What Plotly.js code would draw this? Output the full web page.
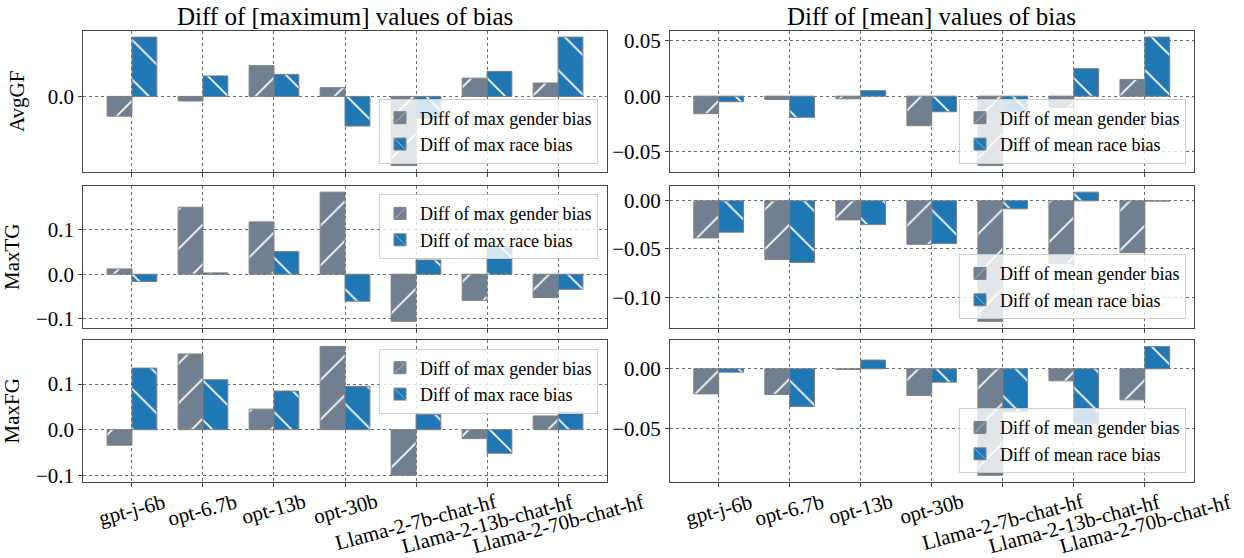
<!DOCTYPE html>
<html>
<head>
<meta charset="utf-8">
<script src="https://cdn.plot.ly/plotly-3.0.1.min.js"></script>
<style>
  html, body { margin: 0; padding: 0; background: #ffffff; }
  #chart { width: 1244px; height: 558px; }
</style>
</head>
<body>
<div id="chart"></div>
<script>
// Model names along the x axis
const models = ['gpt-j-6b', 'opt-6.7b', 'opt-13b', 'opt-30b',
  'Llama-2-7b-chat-hf', 'Llama-2-13b-chat-hf', 'Llama-2-70b-chat-hf'];

// Row labels (bias metric)
const metrics = ['AvgGF', 'MaxTG', 'MaxFG'];

// Column titles
const columnTitles = ['Diff of [maximum] values of bias', 'Diff of [mean] values of bias'];

// Differences of the maximum bias values
const avgGfMaxGender = [-0.026, -0.006, 0.0405, 0.0115, -0.091, 0.024, 0.0176];
const avgGfMaxRace   = [0.078, 0.027, 0.029, -0.039, -0.029, 0.033, 0.078];
const maxTgMaxGender = [0.012, 0.151, 0.118, 0.185, -0.106, -0.059, -0.0526];
const maxTgMaxRace   = [-0.0165, 0.003, 0.051, -0.061, 0.032, 0.062, -0.034];
const maxFgMaxGender = [-0.034, 0.166, 0.045, 0.1825, -0.100, -0.0197, 0.030];
const maxFgMaxRace   = [0.135, 0.1095, 0.0847, 0.095, 0.033, -0.0518, 0.0387];

// Differences of the mean bias values
const avgGfMeanGender = [-0.0157, -0.003, -0.0024, -0.0265, -0.0623, -0.0102, 0.015];
const avgGfMeanRace   = [-0.005, -0.019, 0.005, -0.014, -0.014, 0.0247, 0.053];
const maxTgMeanGender = [-0.0385, -0.0608, -0.0198, -0.0451, -0.125, -0.065, -0.0538];
const maxTgMeanRace   = [-0.0326, -0.0639, -0.0247, -0.0444, -0.0083, 0.009, -0.0003];
const maxFgMeanGender = [-0.021, -0.0215, -0.0006, -0.0223, -0.0891, -0.0101, -0.026];
const maxFgMeanRace   = [-0.0028, -0.0316, 0.0073, -0.0112, -0.036, -0.046, 0.0187];

const FONT = 'Liberation Serif';
const GENDER_COLOR = '#708090';
const RACE_COLOR = '#1f77b4';
const EDGE_COLOR = '#7f7f7f';
const GRID_COLOR = '#34495e';
const FRAME_COLOR = '#444444';

// Panel layout: rows top to bottom, left column = max, right column = mean
const panels = [
  { gender: avgGfMaxGender,  race: avgGfMaxRace,  kind: 'max',  row: 0, col: 0, dtick: 0.1,  fmt: '.1f', legendPos: 'bottom' },
  { gender: avgGfMeanGender, race: avgGfMeanRace, kind: 'mean', row: 0, col: 1, dtick: 0.05, fmt: '.2f', legendPos: 'bottom' },
  { gender: maxTgMaxGender,  race: maxTgMaxRace,  kind: 'max',  row: 1, col: 0, dtick: 0.1,  fmt: '.1f', legendPos: 'top' },
  { gender: maxTgMeanGender, race: maxTgMeanRace, kind: 'mean', row: 1, col: 1, dtick: 0.05, fmt: '.2f', legendPos: 'bottom' },
  { gender: maxFgMaxGender,  race: maxFgMaxRace,  kind: 'max',  row: 2, col: 0, dtick: 0.1,  fmt: '.1f', legendPos: 'top' },
  { gender: maxFgMeanGender, race: maxFgMeanRace, kind: 'mean', row: 2, col: 1, dtick: 0.05, fmt: '.2f', legendPos: 'bottom' }
];

const W = 1244, H = 558;
const colX = [[83.3, 606.7], [670, 1193.5]];
const rowY = [[30.7, 172], [185.7, 327.7], [340, 481.7]];
const legendRight = [598, 1186];
const legendInset = 8.5;

// Bars are 0.35 wide each, two per category; 5% padding on both axes
const BAR_W = 0.35;
const xLo = -BAR_W, xHi = models.length - 1 + BAR_W;
const xPad = 0.05 * (xHi - xLo);
const xRange = [xLo - xPad, xHi + xPad];

function valueRange(a, b) {
  const lo = Math.min(0, ...a, ...b);
  const hi = Math.max(0, ...a, ...b);
  const m = 0.05 * (hi - lo);
  return [lo - m, hi + m];
}

const traces = [];
const layout = {
  width: W, height: H,
  margin: { l: 0, r: 0, t: 0, b: 0 },
  paper_bgcolor: '#ffffff',
  plot_bgcolor: '#ffffff',
  barmode: 'group',
  bargap: 1 - 2 * BAR_W,
  bargroupgap: 0,
  font: { family: FONT, size: 20, color: '#000000' },
  annotations: []
};

panels.forEach((p, i) => {
  const k = i + 1;
  const xa = k === 1 ? 'x' : 'x' + k;
  const ya = k === 1 ? 'y' : 'y' + k;
  const xKey = k === 1 ? 'xaxis' : 'xaxis' + k;
  const yKey = k === 1 ? 'yaxis' : 'yaxis' + k;
  const legKey = k === 1 ? 'legend' : 'legend' + k;

  const common = {
    type: 'bar', x: models, xaxis: xa, yaxis: ya, legend: legKey,
    hoverinfo: 'skip', showlegend: true
  };
  traces.push(Object.assign({}, common, {
    y: p.gender,
    name: 'Diff of ' + p.kind + ' gender bias',
    marker: {
      color: GENDER_COLOR,
      line: { color: EDGE_COLOR, width: 1 },
      pattern: { shape: '/', fillmode: 'overlay', fgcolor: '#ffffff', fgopacity: 1, size: 28, solidity: 0.06 }
    }
  }));
  traces.push(Object.assign({}, common, {
    y: p.race,
    name: 'Diff of ' + p.kind + ' race bias',
    marker: {
      color: RACE_COLOR,
      line: { color: EDGE_COLOR, width: 1 },
      pattern: { shape: '\\', fillmode: 'overlay', fgcolor: '#ffffff', fgopacity: 1, size: 28, solidity: 0.06 }
    }
  }));

  const cx = colX[p.col], ry = rowY[p.row];
  const isBottom = p.row === 2;

  layout[xKey] = {
    domain: [cx[0] / W, cx[1] / W],
    anchor: ya,
    type: 'category',
    categoryorder: 'array',
    categoryarray: models,
    range: xRange,
    showgrid: true, gridcolor: GRID_COLOR, griddash: 'dot', gridwidth: 0.8,
    showline: true, mirror: true, linecolor: FRAME_COLOR, linewidth: 1,
    ticks: 'outside', ticklen: 4, tickcolor: FRAME_COLOR, tickwidth: 1,
    showticklabels: false,
    zeroline: false, automargin: false, fixedrange: true
  };
  const yAxis = {
    domain: [1 - ry[1] / H, 1 - ry[0] / H],
    anchor: xa,
    range: valueRange(p.gender, p.race),
    dtick: p.dtick, tick0: 0, tickformat: p.fmt,
    tickfont: { family: FONT, size: 21, color: '#000000' },
    showgrid: true, gridcolor: GRID_COLOR, griddash: 'dot', gridwidth: 0.8,
    showline: true, mirror: true, linecolor: FRAME_COLOR, linewidth: 1,
    ticks: 'outside', ticklen: 4, tickcolor: FRAME_COLOR, tickwidth: 1,
    zeroline: false, automargin: false, fixedrange: true
  };
  if (p.col === 0) {
    yAxis.title = { text: metrics[p.row], font: { family: FONT, size: 21, color: '#000000' }, standoff: 17 };
  }
  layout[yKey] = yAxis;

  layout[legKey] = {
    x: legendRight[p.col] / W,
    xanchor: 'right',
    y: p.legendPos === 'bottom' ? 1 - (ry[1] - legendInset) / H : 1 - (ry[0] + legendInset) / H,
    yanchor: p.legendPos,
    bgcolor: 'rgba(255,255,255,0.8)',
    bordercolor: '#cccccc', borderwidth: 1,
    font: { family: FONT, size: 18, color: '#000000' },
    tracegroupgap: 0
  };

  // Rotated model names under the bottom row
  if (isBottom) {
    models.forEach(m => {
      layout.annotations.push({
        text: m, x: m, xref: xa, y: 0, yref: ya + ' domain',
        xanchor: 'center', yanchor: 'top', yshift: -5,
        textangle: -15, showarrow: false,
        font: { family: FONT, size: 21, color: '#000000' }
      });
    });
  }
  // Column titles above the top row
  if (p.row === 0) {
    layout.annotations.push({
      text: columnTitles[p.col], x: 0.5, xref: xa + ' domain', y: 1, yref: ya + ' domain',
      xanchor: 'center', yanchor: 'bottom', yshift: -1, showarrow: false,
      font: { family: FONT, size: 25, color: '#000000' }
    });
  }
});

Plotly.newPlot('chart', traces, layout, { displayModeBar: false, staticPlot: true });
</script>
</body>
</html>
